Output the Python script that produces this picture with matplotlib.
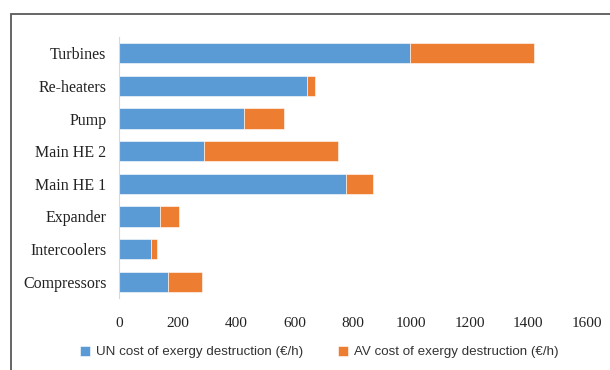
import matplotlib.pyplot as plt
from matplotlib.patches import Rectangle

plt.rcParams['font.family'] = ['Liberation Serif', 'DejaVu Serif']

components = ['Turbines', 'Re-heaters', 'Pump', 'Main HE 2', 'Main HE 1',
              'Expander', 'Intercoolers', 'Compressors']
un_cost = [995, 642, 427, 292, 776, 139, 108, 168]
av_cost = [427, 28, 139, 456, 93, 65, 21, 117]

blue = '#5B9BD5'
orange = '#ED7D31'

fig = plt.figure(figsize=(6.1, 3.7), dpi=100)
ax = fig.add_axes([119 / 610, 1 - 298 / 370, (586.5 - 119) / 610, (298 - 37) / 370])

ypos = list(range(len(components)))[::-1]
ax.barh(ypos, un_cost, height=0.62, color=blue, edgecolor='white', linewidth=0.4,
        label='UN cost of exergy destruction (€/h)')
ax.barh(ypos, av_cost, left=un_cost, height=0.62, color=orange, edgecolor='white',
        linewidth=0.4, label='AV cost of exergy destruction (€/h)')

ax.set_xlim(0, 1600)
ax.set_ylim(-0.5, 7.5)
ax.set_xticks(range(0, 1601, 200))
ax.set_yticks(ypos)
ax.set_yticklabels(components)
ax.tick_params(axis='both', length=0, labelsize=11, colors='#222222')
ax.tick_params(axis='y', labelsize=11.5, pad=9)
ax.tick_params(axis='x', pad=14)
for s in ['top', 'right', 'bottom']:
    ax.spines[s].set_visible(False)
ax.spines['left'].set_color('#d9d9d9')
ax.spines['left'].set_linewidth(0.8)

leg = fig.legend(loc='center', bbox_to_anchor=(0.523, 1 - 352 / 370), ncol=2,
                 frameon=False, handlelength=0.8, handleheight=0.8,
                 handletextpad=0.4, columnspacing=2.6,
                 prop={'family': ['Liberation Sans Narrow', 'Liberation Sans', 'DejaVu Sans'],
                       'size': 9.6})
for t in leg.get_texts():
    t.set_color('#333333')

# outer chart frame, partly cropped at right and bottom
fig.patches.append(Rectangle((11 / 610, -0.05), 1.2, 1 - 14 / 370 + 0.05,
                             transform=fig.transFigure, fill=False,
                             edgecolor='#595959', linewidth=1.3))

fig.savefig('out.png', dpi=100)
